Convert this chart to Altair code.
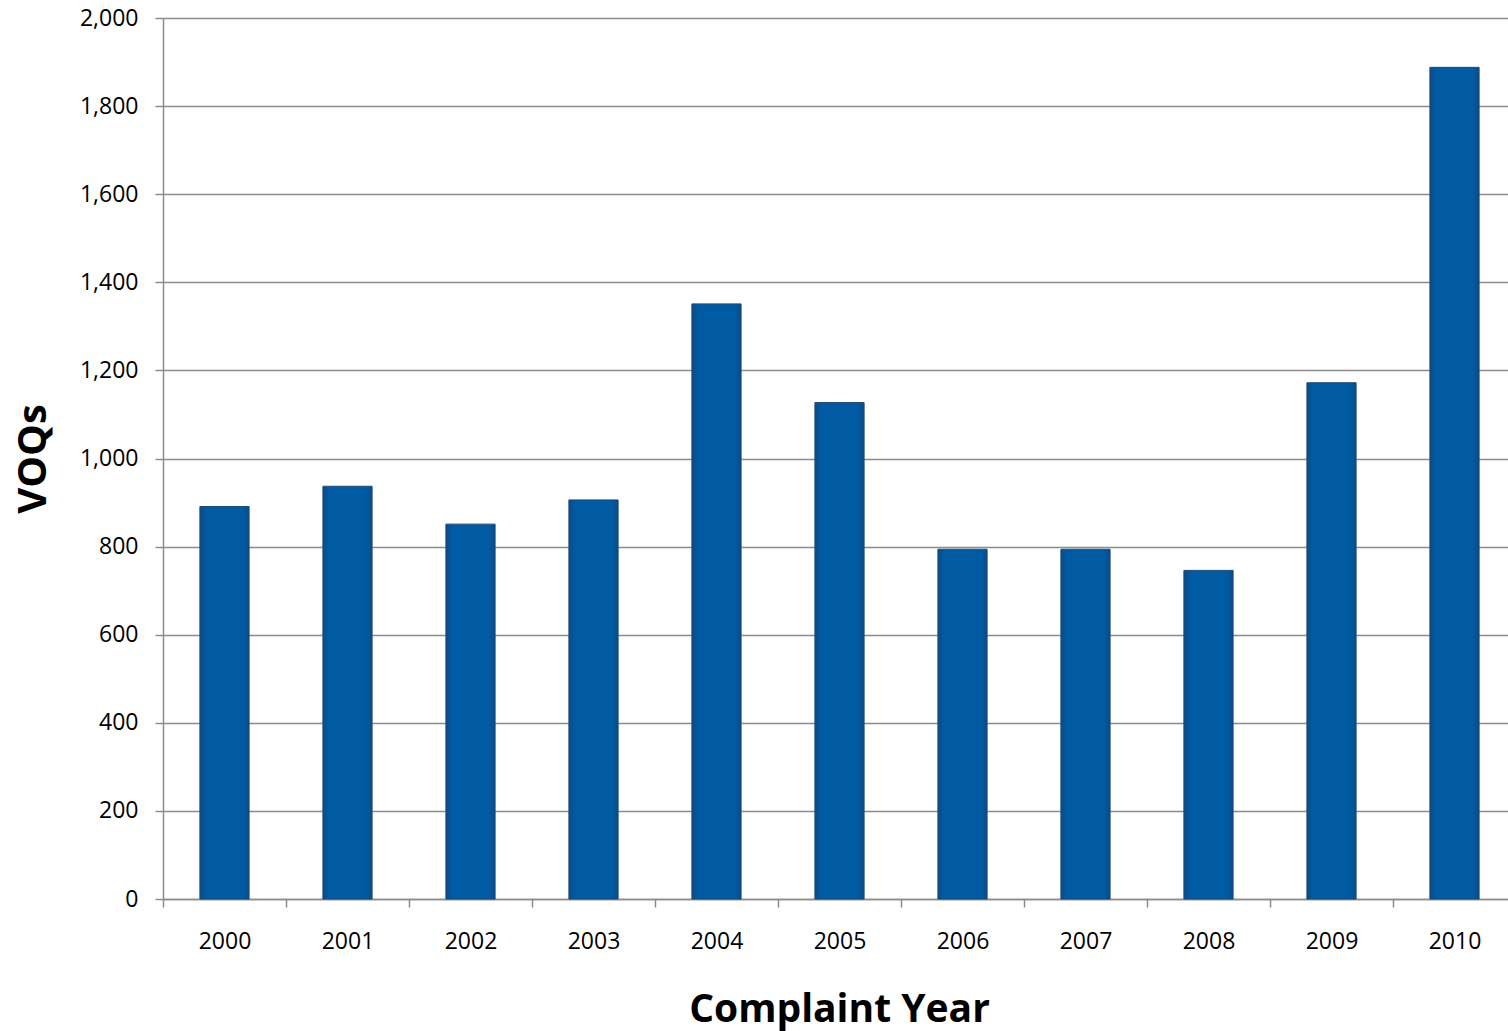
import altair as alt
import pandas as pd

# Vehicle owner questionnaires received per complaint year
years = ["2000", "2001", "2002", "2003", "2004", "2005",
         "2006", "2007", "2008", "2009", "2010"]
voqs = [891, 937, 851, 906, 1351, 1127, 794, 794, 746, 1172, 1888]

df = pd.DataFrame({"year": years, "voqs": voqs})

font = "Open Sans"
axis_gray = "#8c8c8c"

bar_fill = alt.Gradient(
    gradient="linear",
    x1=0, x2=1, y1=0, y2=0,
    stops=[
        alt.GradientStop(offset=0, color="#0b4a86"),
        alt.GradientStop(offset=0.12, color="#005ba2"),
        alt.GradientStop(offset=0.88, color="#005ba2"),
        alt.GradientStop(offset=1, color="#0b4a86"),
    ],
)

chart = (
    alt.Chart(df)
    .mark_bar(
        color=bar_fill,
        stroke="#1f4a78",
        strokeWidth=1,
        width=alt.RelativeBandSize(0.4),
    )
    .encode(
        x=alt.X(
            "year:N",
            sort=years,
            # the category band runs a little past the right edge of the page
            scale=alt.Scale(paddingInner=0, paddingOuter=0, range=[0, 1353]),
            axis=alt.Axis(
                title="Complaint Year",
                titleFont=font,
                titleFontSize=39,
                titleFontWeight="bold",
                titleColor="#000000",
                titlePadding=37,
                titleX=676,
                labelFont=font,
                labelFontSize=23,
                labelColor="#000000",
                labelAngle=0,
                labelPadding=23,
                tickBand="extent",
                tickSize=8,
                tickColor=axis_gray,
                tickWidth=1.5,
                domainColor=axis_gray,
                domainWidth=1.5,
                grid=False,
            ),
        ),
        y=alt.Y(
            "voqs:Q",
            scale=alt.Scale(domain=[0, 2000]),
            axis=alt.Axis(
                title="VOQs",
                titleFont=font,
                titleFontSize=40,
                titleFontWeight="bold",
                titleColor="#000000",
                titlePadding=26,
                values=list(range(0, 2001, 200)),
                format=",d",
                labelFont=font,
                labelFontSize=23,
                labelColor="#000000",
                labelPadding=17,
                tickSize=8,
                tickColor=axis_gray,
                tickWidth=1.5,
                domainColor=axis_gray,
                domainWidth=1.5,
                gridColor=axis_gray,
                gridWidth=1.5,
            ),
        ),
    )
    .properties(
        width=1345,
        height=881,
        autosize=alt.AutoSizeParams(type="none"),
        padding={"left": 163, "top": 18, "right": 0, "bottom": 132},
    )
    .configure_view(stroke=None)
)

chart.save("out.html", embed_options={"renderer": "svg", "actions": False})
